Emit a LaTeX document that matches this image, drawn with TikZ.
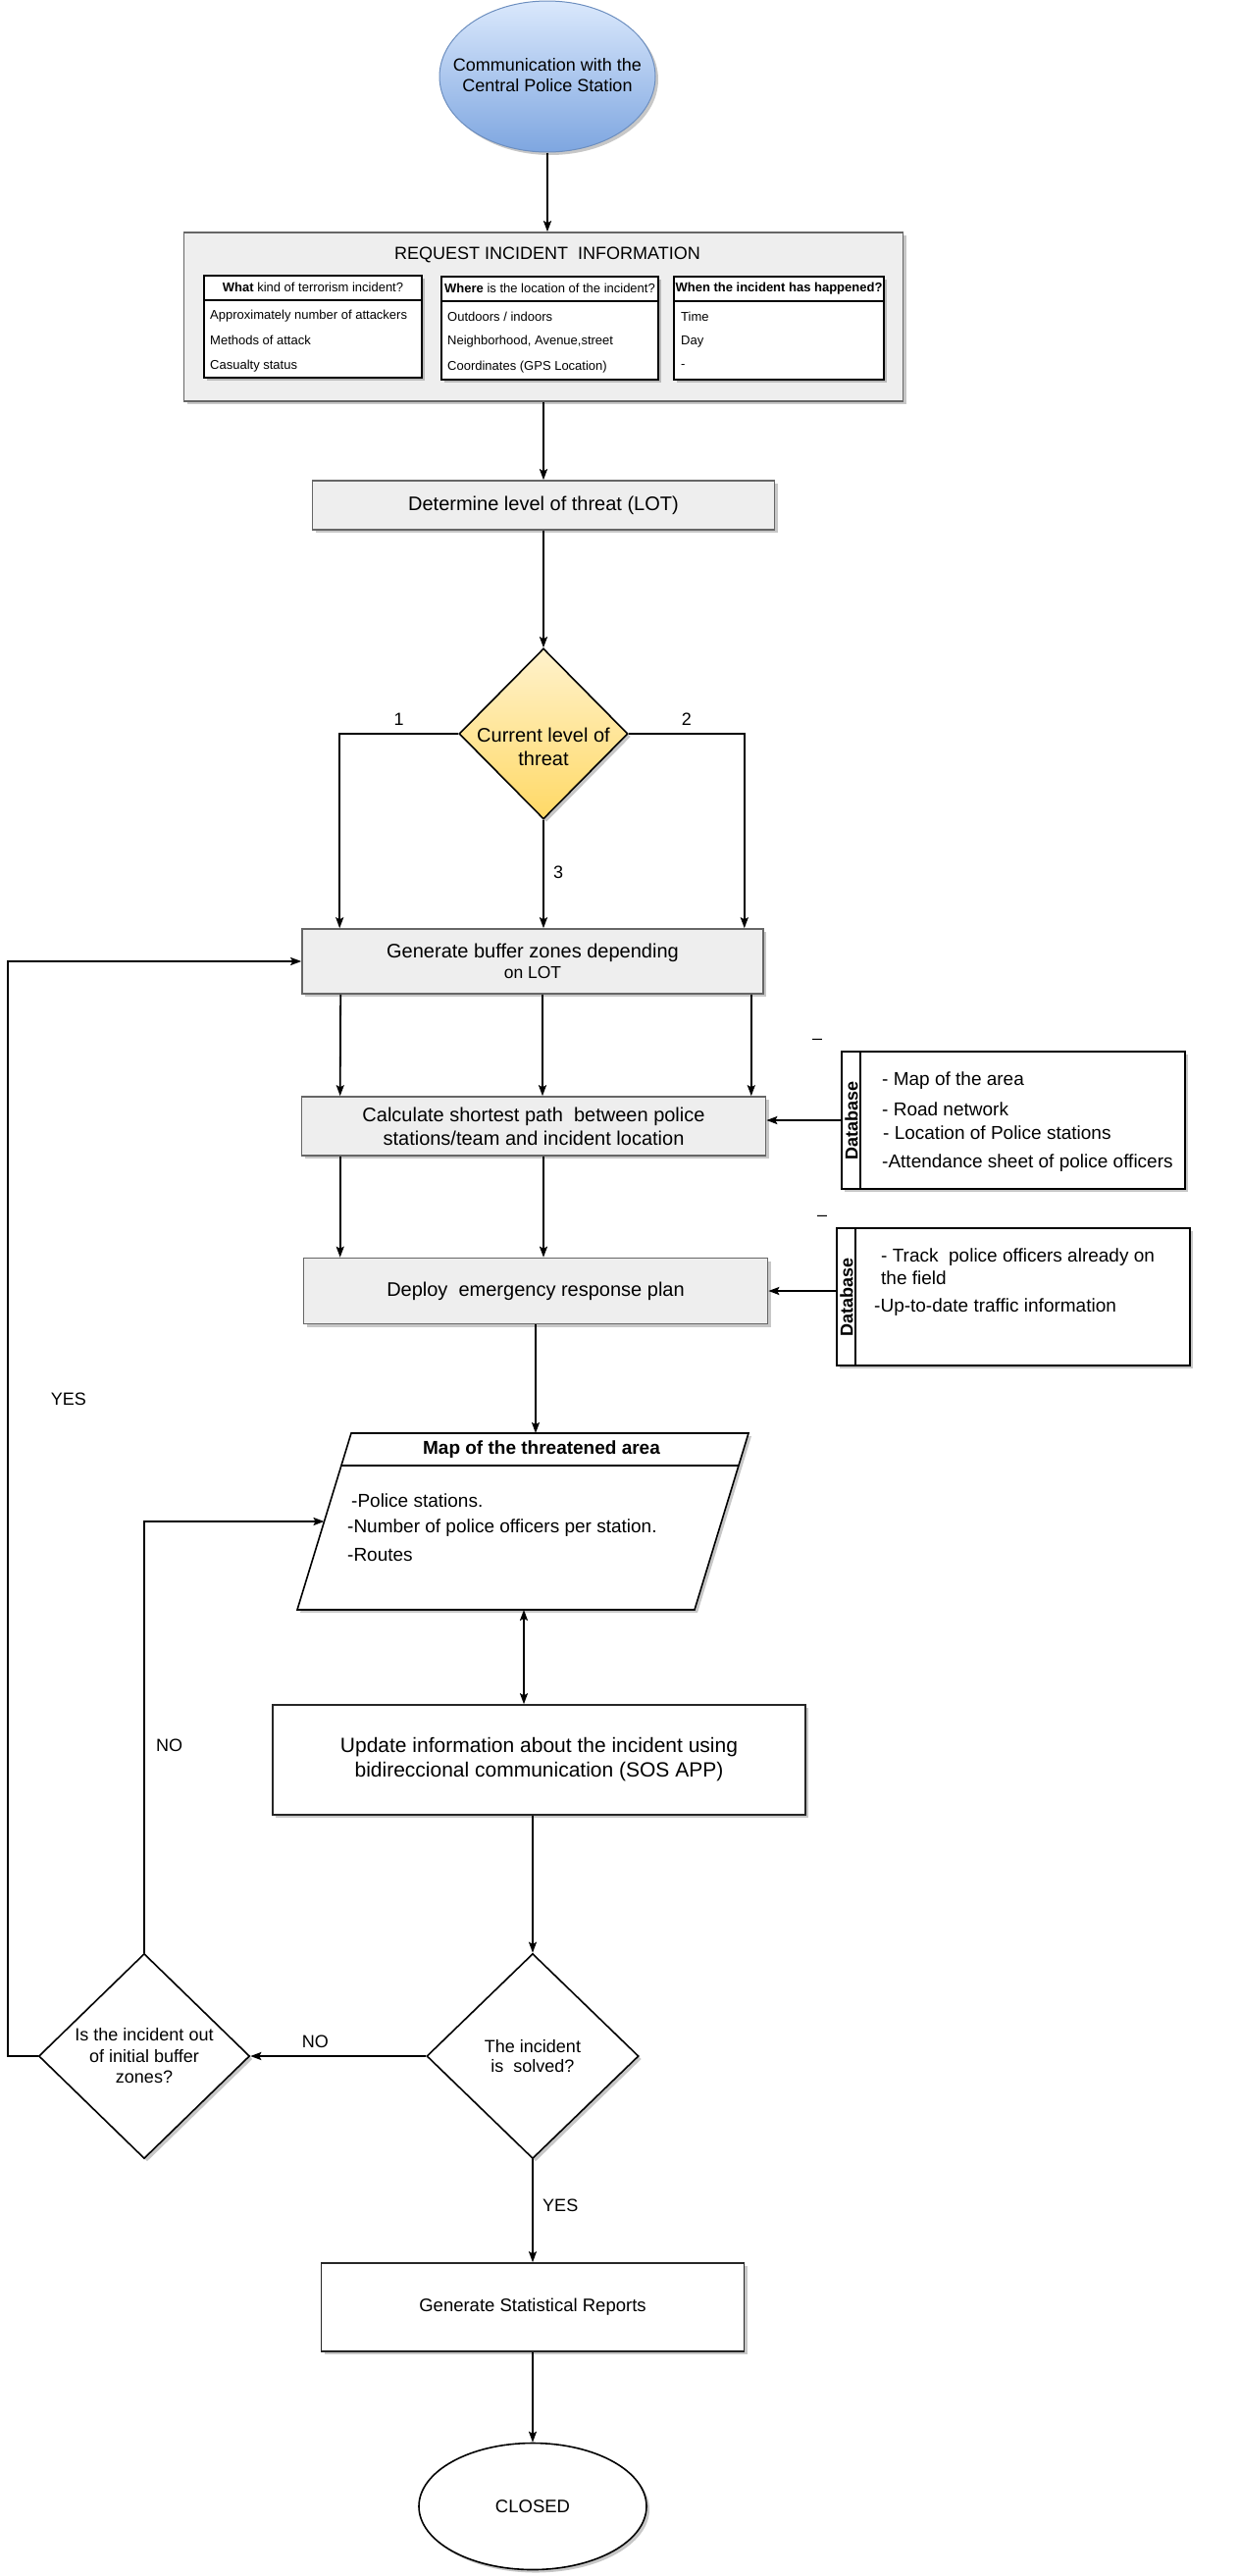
\documentclass[tikz,border=0pt]{standalone}
\usepackage{fontspec}
\setsansfont{Liberation Sans}
\usepackage{tikz}
\usetikzlibrary{positioning,shapes.geometric,shadows,arrows.meta,calc}

\definecolor{boxgray}{HTML}{EEEEEE}
\definecolor{boxline}{HTML}{666666}
\definecolor{skytop}{HTML}{DAE8FC}
\definecolor{skybottom}{HTML}{7EA6E0}
\definecolor{skyline}{HTML}{6C8EBF}
\definecolor{sunTop}{HTML}{FFF2CC}
\definecolor{sunBottom}{HTML}{FFD966}
\newcommand{\fsz}[2]{\fontsize{#1}{#2}\selectfont}

\begin{document}
\begin{tikzpicture}[x=1pt, y=-1pt,
  >={Stealth[length=11pt,width=8pt,inset=2pt]},
  every node/.style={font=\sffamily\fsz{18}{21}},
  softshadow/.style={drop shadow={shadow xshift=3pt, shadow yshift=-3pt, fill=black, opacity=0.22}},
  graybox/.style={shape=rectangle, draw=boxline, fill=boxgray, line width=1.6pt, softshadow, inner sep=0pt, align=center, font=\sffamily\fsz{20}{24}},
  whitebox/.style={shape=rectangle, draw=black!85, fill=white, line width=1.6pt, softshadow, inner sep=0pt, align=center},
  listbox/.style={shape=rectangle, draw=black, fill=white, line width=1.6pt, softshadow, inner sep=0pt},
  small/.style={font=\sffamily\fsz{13}{15}, inner sep=0pt},
  dbtext/.style={font=\sffamily\fsz{19}{22}, anchor=west, inner sep=0pt},
  flow/.style={line width=1.8pt}]
\useasboundingbox (0,0) rectangle (1262,2626);

\node[shape = ellipse, top color = skytop, bottom color = skybottom, draw = skyline, line width = 1pt, softshadow, minimum width = 220, minimum height = 154, inner sep = 0pt] (1) at (558,78) {};
\node[align = center, font = \sffamily\fsz{18}{21}] (2) at (558,77) {Communication with the\\Central Police Station};

\node[graybox, minimum width = 733, minimum height = 172] (3) at (554,323) {};
\node[font = \sffamily\fsz{18}{21}] (4) at (558,260) {REQUEST INCIDENT\ \ INFORMATION};
\node[listbox, minimum width = 222, minimum height = 104] (5) at (319,333) {};
\node[listbox, minimum width = 221, minimum height = 105] (6) at (560.5,334.5) {};
\node[listbox, minimum width = 214, minimum height = 105] (7) at (794,334.5) {};
\draw[line width = 1.6pt] ([yshift=-26pt]5.north west) -- ([yshift=-26pt]5.north east);
\draw[line width = 1.6pt] ([yshift=-26pt]6.north west) -- ([yshift=-26pt]6.north east);
\draw[line width = 1.6pt] ([yshift=-26pt]7.north west) -- ([yshift=-26pt]7.north east);
\node[small] (8) at ([yshift=-13pt]5.north) {\textbf{What} kind of terrorism incident?};
\node[small] (9) at ([yshift=-13pt]6.north) {\textbf{Where} is the location of the incident?};
\node[small] (10) at ([yshift=-13pt]7.north) {\textbf{When the incident has happened?}};
\node[small, anchor = west] (11) at (214,322) {Approximately number of attackers};
\node[small, anchor = west] (12) at (214,347) {Methods of attack};
\node[small, anchor = west] (13) at (214,373) {Casualty status};
\node[small, anchor = west] (14) at (456,323) {Outdoors / indoors};
\node[small, anchor = west] (15) at (456,348) {Neighborhood, Avenue,street};
\node[small, anchor = west] (16) at (456,374) {Coordinates (GPS Location)};
\node[small, anchor = west] (17) at (694,323) {Time};
\node[small, anchor = west] (18) at (694,348) {Day};
\node[small, anchor = west] (50) at (694,374) {-};

\node[graybox, minimum width = 471, minimum height = 50] (19) at (554,515) {Determine level of threat (LOT)};

\node[shape = diamond, top color = sunTop, bottom color = sunBottom, draw = black, line width = 1.6pt, softshadow, minimum width = 172, minimum height = 174, inner sep = 0pt] (20) at (554,748) {};
\node[align = center, font = \sffamily\fsz{20}{24}] (21) at (554,761) {Current level of\\threat};

\node[graybox, minimum width = 470, minimum height = 66, font = \sffamily\fsz{20}{21}] (22) at (543,980) {Generate buffer zones depending\\{\fsz{17.5}{21}on LOT}};
\node[graybox, minimum width = 473, minimum height = 60] (23) at (544,1148) {Calculate shortest path\ \ between police\\stations/team and incident location};
\node[graybox, minimum width = 473, minimum height = 67] (24) at (546,1316) {Deploy\ \ emergency response plan};

\node[listbox, minimum width = 350, minimum height = 140] (25) at (1033,1142) {};
\draw[line width = 1.6pt] ([xshift=20pt]25.north west) -- ([xshift=20pt]25.south west);
\node[rotate = 90, font = \sffamily\bfseries\fsz{18}{21}, inner sep = 0pt] (26) at (868,1142) {Database};
\node[dbtext] (27) at (899,1102) {- Map of the area};
\node[dbtext] (28) at (899,1131) {- Road network};
\node[dbtext] (29) at (900,1155) {- Location of Police stations};
\node[dbtext] (30) at (899,1186) {-Attendance sheet of police officers};
\node[inner sep = 0pt] (31) at (833,1062) {\textendash};

\node[listbox, minimum width = 360, minimum height = 140] (32) at (1033,1322) {};
\draw[line width = 1.6pt] ([xshift=20pt]32.north west) -- ([xshift=20pt]32.south west);
\node[rotate = 90, font = \sffamily\bfseries\fsz{18}{21}, inner sep = 0pt] (33) at (863,1322) {Database};
\node[dbtext] (34) at (898,1282) {- Track\ \ police officers already on};
\node[dbtext] (35) at (898,1303) {the field};
\node[dbtext] (36) at (891,1333) {-Up-to-date traffic information};
\node[inner sep = 0pt] (37) at (838,1242) {\textendash};

\coordinate (38a) at (358,1461);
\coordinate (38b) at (763,1461);
\coordinate (38c) at (708,1641);
\coordinate (38d) at (303,1641);
\coordinate (38w) at ($(38a)!0.5!(38d)$);
\draw[line width = 1.6pt, fill = white, softshadow] (38a) -- (38b) -- (38c) -- (38d) -- cycle;
\draw[line width = 1.6pt] ($(38a)!0.184!(38d)$) -- ($(38b)!0.184!(38c)$);
\node[font = \sffamily\bfseries\fsz{19}{22}] (39) at (552,1478) {Map of the threatened area};
\node[dbtext] (40) at (358,1530) {-Police stations.};
\node[dbtext] (41) at (354,1558) {-Number of police officers per station.};
\node[dbtext] (42) at (354,1585) {-Routes};

\node[whitebox, minimum width = 543, minimum height = 112, font = \sffamily\fsz{21}{25}] (43) at (549.5,1794) {Update information about the incident using\\bidireccional communication (SOS APP)};

\node[shape = diamond, draw = black, fill = white, line width = 1.6pt, softshadow, minimum width = 216, minimum height = 209, inner sep = 0pt, align = center, font = \sffamily\fsz{18}{20}] (44) at (543,2096) {The incident\\is\ \ solved?};
\node[shape = diamond, draw = black, fill = white, line width = 1.6pt, softshadow, minimum width = 215, minimum height = 209, inner sep = 0pt, align = center, font = \sffamily\fsz{18}{21.5}] (45) at (147,2096) {Is the incident out\\of initial buffer\\zones?};

\node[whitebox, minimum width = 431, minimum height = 90, font = \sffamily\fsz{18.5}{22}] (46) at (543,2352) {Generate Statistical Reports};
\node[shape = ellipse, draw = black, fill = white, line width = 1.6pt, softshadow, minimum width = 232, minimum height = 129, inner sep = 0pt, font = \sffamily\fsz{18.5}{22}] (47) at (543,2555) {CLOSED};

\begin{scope}[flow]
\draw[->] (1.south) -- (1.south |- 3.north);
\draw[->] (3.south) -- (19.north);
\draw[->] (19.south) -- (20.north);
\draw[->] (20.west) -| node[pos = 0.25, above = 4pt] {1} ([xshift=39pt]22.north west);
\draw[->] (20.east) -| node[pos = 0.25, above = 4pt] {2} ([xshift=-20pt]22.north east);
\draw[->] (20.south) -- node[pos = 0.48, right = 6pt] {3} (20.south |- 22.north);
\draw[->] ([xshift=40pt]22.south west) -- ([xshift=40pt]23.north west);
\draw[->] ([xshift=10pt]22.south) -- ([xshift=10pt]22.south |- 23.north);
\draw[->] ([xshift=-13pt]22.south east) -- ([xshift=-13pt]22.south east |- 23.north);
\draw[->] ([xshift=40pt]23.south west) -- ([xshift=40pt]23.south west |- 24.north);
\draw[->] ([xshift=10pt]23.south) -- ([xshift=10pt]23.south |- 24.north);
\draw[->] (25.west) -- (25.west -| 23.east);
\draw[->] (32.west |- 24.east) -- (24.east);
\draw[->] (24.south) -- (24.south |- 38a);
\draw[<->] ([xshift=-15.5pt]43.north) -- ([xshift=-15.5pt]43.north |- 38d);
\draw[->] (43.south -| 44.north) -- (44.north);
\draw[->] (44.west) -- node[pos = 0.63, above = 4pt] {NO} (45.east);
\draw[->] (44.south) -- node[pos = 0.45, right = 6pt] {YES} (44.south |- 46.north);
\draw[->] (46.south) -- (46.south |- 47.north);
\draw[->] (45.north) |- node[pos = 0.24, right = 8pt] {NO} (38w);
\draw[->] (45.west) -- ++(-31,0) |- node[pos = 0.3, right = 40pt] {YES} (22.west);
\end{scope}
\end{tikzpicture}
\end{document}
